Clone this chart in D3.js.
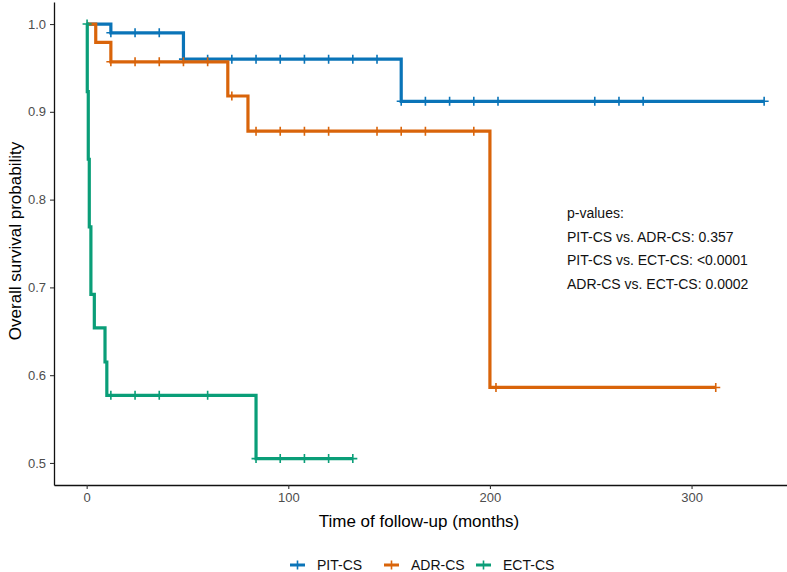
<!DOCTYPE html>
<html>
<head>
<meta charset="utf-8">
<script src="https://cdn.jsdelivr.net/npm/d3@7"></script>
<style>
  body { margin: 0; background: #fff; }
  text { font-family: Arial, "Liberation Sans", sans-serif; }
</style>
</head>
<body>
<svg id="chart" width="787" height="572"></svg>
<script>
// step points of each survival curve (time in months, survival probability)
var groups = ["PIT-CS", "ADR-CS", "ECT-CS"];
var colors = ["#0a74b8", "#d9640a", "#0a9e78"];

var pitTimes = [0, 12, 48, 156, 336];
var pitSurv = [1.0, 0.990, 0.960, 0.912, 0.912];
var pitCensor = [12, 24, 36, 48, 60, 72, 84, 96, 108, 120, 132, 144, 156, 168, 180, 192, 204, 252, 264, 276, 336];

var adrTimes = [0, 4.5, 12, 70, 80, 200, 312];
var adrSurv = [1.0, 0.979, 0.957, 0.918, 0.878, 0.586, 0.586];
var adrCensor = [12, 24, 36, 48, 60, 72, 84, 96, 108, 120, 144, 156, 168, 192, 203, 312];

var ectTimes = [0, 0.3, 0.8, 1.3, 2.1, 3.8, 9.1, 10, 84, 132];
var ectSurv = [1.0, 0.923, 0.846, 0.769, 0.692, 0.654, 0.615, 0.577, 0.505, 0.505];
var ectCensor = [0.2, 12, 24, 36, 60, 84, 96, 108, 120, 132];

var xTicks = [0, 100, 200, 300];
var yTicks = [0.5, 0.6, 0.7, 0.8, 0.9, 1.0];
var pLines = ["p-values:", "PIT-CS vs. ADR-CS: 0.357", "PIT-CS vs. ECT-CS: <0.0001", "ADR-CS vs. ECT-CS: 0.0002"];

var curves = [
    {times: pitTimes, surv: pitSurv, censor: pitCensor},
    {times: adrTimes, surv: adrSurv, censor: adrCensor},
    {times: ectTimes, surv: ectSurv, censor: ectCensor}
];

var svg = d3.select("#chart");

var x = d3.scaleLinear().domain([-16.2, 351.8]).range([54, 796]);
var y = d3.scaleLinear().domain([0.4749, 1.0251]).range([485, 2]);

// survival value at time t (right-continuous step)
function survAt(c, t) {
    var s = c.surv[0];
    for (var i = 0; i < c.times.length; i++) {
        if (c.times[i] <= t) s = c.surv[i];
    }
    return s;
}

var line = d3.line()
    .x(function(d) { return x(d[0]); })
    .y(function(d) { return y(d[1]); })
    .curve(d3.curveStepAfter);

var plot = svg.append("g");

curves.forEach(function(c, i) {
    var pts = c.times.map(function(t, j) { return [t, c.surv[j]]; });
    plot.append("path")
        .attr("d", line(pts))
        .attr("fill", "none")
        .attr("stroke", colors[i])
        .attr("stroke-width", 3.2);

    plot.selectAll(".cens" + i)
        .data(c.censor)
        .enter()
        .append("path")
        .attr("class", "cens" + i)
        .attr("d", function(t) {
            var cx = x(t), cy = y(survAt(c, t));
            return "M" + (cx - 4.5) + "," + cy + "H" + (cx + 4.5) + "M" + cx + "," + (cy - 4.5) + "V" + (cy + 4.5);
        })
        .attr("stroke", colors[i])
        .attr("stroke-width", 1.6)
        .attr("fill", "none");
});

// x-axis
var xAxis = svg.append("g")
    .attr("transform", "translate(0,485)")
    .call(d3.axisBottom(x).tickValues(xTicks).tickSize(4).tickSizeOuter(0).tickPadding(4));
xAxis.select(".domain").attr("stroke", "#111").attr("stroke-width", 1.3);
xAxis.selectAll(".tick line").attr("stroke", "#333").attr("stroke-width", 1.1);
xAxis.selectAll(".tick text")
    .attr("fill", "#4d4d4d")
    .style("font-size", "13px")
    .style("font-family", "Arial, 'Liberation Sans', sans-serif");

// y-axis
var yAxis = svg.append("g")
    .attr("transform", "translate(54,0)")
    .call(d3.axisLeft(y).tickValues(yTicks).tickFormat(d3.format(".1f")).tickSize(4).tickSizeOuter(0).tickPadding(4));
yAxis.select(".domain").attr("stroke", "#111").attr("stroke-width", 1.3);
yAxis.selectAll(".tick line").attr("stroke", "#333").attr("stroke-width", 1.1);
yAxis.selectAll(".tick text")
    .attr("fill", "#4d4d4d")
    .style("font-size", "13px")
    .style("font-family", "Arial, 'Liberation Sans', sans-serif");

// axis titles
svg.append("text")
    .attr("x", 419)
    .attr("y", 527)
    .attr("text-anchor", "middle")
    .style("font-size", "17px")
    .text("Time of follow-up (months)");

svg.append("text")
    .attr("transform", "translate(21,241) rotate(-90)")
    .attr("text-anchor", "middle")
    .style("font-size", "17px")
    .text("Overall survival probability");

// p-values annotation
svg.selectAll(".pval")
    .data(pLines)
    .enter()
    .append("text")
    .attr("class", "pval")
    .attr("x", 567)
    .attr("y", function(d, i) { return 218 + i * 23.7; })
    .style("font-size", "14px")
    .attr("fill", "#111")
    .text(function(d) { return d; });

// legend
var legendX = [290, 384, 476];
var legend = svg.append("g");
groups.forEach(function(g, i) {
    var lx = legendX[i], ly = 565;
    legend.append("line")
        .attr("x1", lx).attr("x2", lx + 15)
        .attr("y1", ly).attr("y2", ly)
        .attr("stroke", colors[i]).attr("stroke-width", 3);
    legend.append("line")
        .attr("x1", lx + 7.5).attr("x2", lx + 7.5)
        .attr("y1", ly - 4.5).attr("y2", ly + 4.5)
        .attr("stroke", colors[i]).attr("stroke-width", 1.6);
    legend.append("text")
        .attr("x", lx + 27)
        .attr("y", ly + 5)
        .style("font-size", "14px")
        .attr("fill", "#111")
        .text(g);
});
</script>
</body>
</html>
